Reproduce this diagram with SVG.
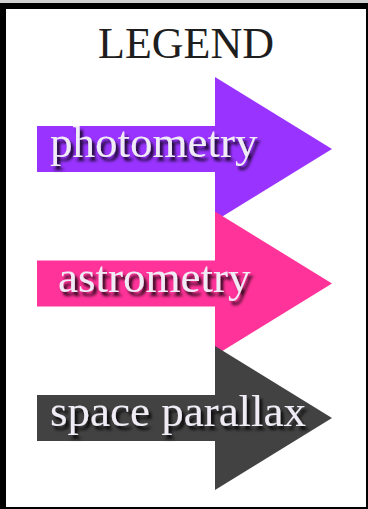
<svg xmlns="http://www.w3.org/2000/svg" width="368" height="509" viewBox="0 0 368 509">
<defs>
<filter id="sh" x="-10%" y="-30%" width="130%" height="170%">
<feDropShadow dx="3" dy="4" stdDeviation="1.6" flood-color="#000" flood-opacity="0.85"/>
</filter>
</defs>
<style>
.lbl{font-family:"Liberation Serif","Times New Roman",serif;font-size:45px;fill:#f0ecf6;filter:url(#sh)}
.title{font-family:"Liberation Serif","Times New Roman",serif;font-size:44px;fill:#1e1e1e}
</style>
<rect x="0" y="0" width="368" height="509" fill="#ffffff"/>
<rect x="0" y="0" width="368" height="3" fill="#d0d0d0"/>
<rect x="3" y="6" width="366" height="504" fill="none" stroke="#000" stroke-width="6"/>
<g id="title"><text class="title" x="186" y="58" text-anchor="middle">LEGEND</text></g>
<g id="photometry">
<path d="M37 126H215V77L332 149L215 221V172H37Z" fill="#9933ff"/>
<text class="lbl" x="50" y="157">photometry</text>
</g>
<g id="astrometry">
<path d="M37 260.5H215V211.5L332 283.5L215 355.5V306.5H37Z" fill="#ff3399"/>
<text class="lbl" x="58" y="291.5">astrometry</text>
</g>
<g id="space-parallax">
<path d="M37 395H215V346L332 418L215 490V441H37Z" fill="#424242"/>
<text class="lbl" x="50" y="426">space parallax</text>
</g>
<g id="connectors"/>
</svg>
